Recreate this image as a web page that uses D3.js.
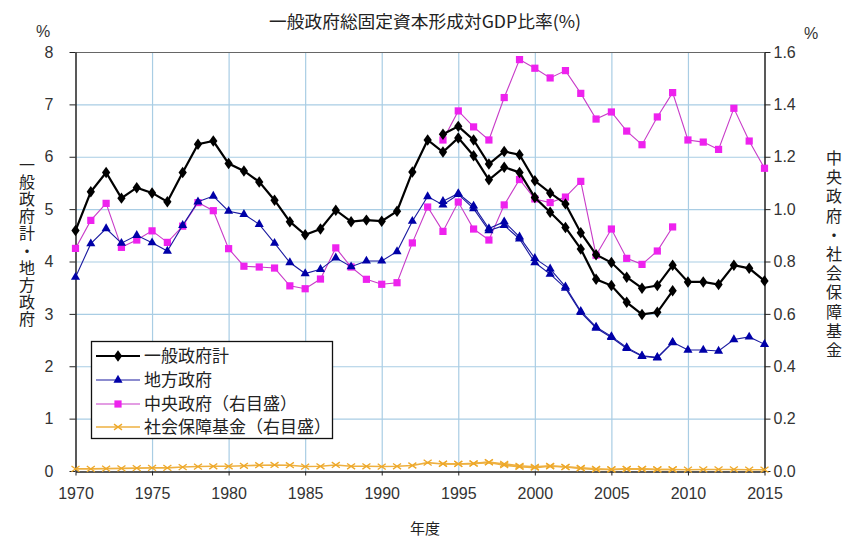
<!DOCTYPE html>
<html>
<head>
<meta charset="utf-8">
<script src="https://cdn.jsdelivr.net/npm/d3@7"></script>
<style>
  body { margin: 0; background: #fff; }
  svg { display: block; }
</style>
</head>
<body>
<div id="chart"></div>
<script>
// years covered by the two survey series
const oldYears = d3.range(1970, 2010)
const newYears = d3.range(1994, 2016)

// 一般政府計 (left axis, %)
const generalOld = [4.59, 5.33, 5.70, 5.21, 5.41, 5.31, 5.14, 5.70, 6.24, 6.30,
  5.87, 5.73, 5.52, 5.17, 4.76, 4.51, 4.62, 4.98, 4.76, 4.79,
  4.77, 4.96, 5.71, 6.32, 6.09, 6.36, 6.02, 5.56, 5.80, 5.70,
  5.22, 4.94, 4.65, 4.24, 3.66, 3.54, 3.22, 2.99, 3.03, 3.44]
const generalNew = [6.43, 6.58, 6.32, 5.86, 6.10, 6.04, 5.54, 5.31, 5.10, 4.55,
  4.13, 3.98, 3.70, 3.49, 3.54, 3.93, 3.61, 3.61, 3.56, 3.93, 3.87, 3.63]

// 地方政府 (left axis, %)
const localOld = [3.70, 4.34, 4.63, 4.35, 4.50, 4.36, 4.20, 4.69, 5.14, 5.25,
  4.96, 4.90, 4.71, 4.35, 3.98, 3.77, 3.85, 4.07, 3.90, 4.01,
  4.01, 4.19, 4.77, 5.24, 5.08, 5.28, 5.01, 4.59, 4.69, 4.43,
  3.98, 3.76, 3.49, 3.03, 2.73, 2.55, 2.34, 2.19, 2.16, 2.45]
const localNew = [5.15, 5.30, 5.06, 4.63, 4.76, 4.47, 4.06, 3.86, 3.52, 3.05,
  2.75, 2.57, 2.36, 2.20, 2.17, 2.46, 2.31, 2.31, 2.29, 2.51, 2.56, 2.42]

// 中央政府 (right axis, %)
const centralOld = [0.850, 0.957, 1.022, 0.854, 0.882, 0.917, 0.873, 0.935, 1.025, 0.994,
  0.849, 0.782, 0.779, 0.775, 0.707, 0.696, 0.733, 0.852, 0.779, 0.732,
  0.713, 0.719, 0.871, 1.008, 0.915, 1.027, 0.924, 0.882, 1.016, 1.113,
  1.039, 1.025, 1.046, 1.106, 0.824, 0.924, 0.812, 0.789, 0.840, 0.932]
const centralNew = [1.264, 1.375, 1.314, 1.264, 1.426, 1.571, 1.538, 1.501, 1.529, 1.442,
  1.344, 1.371, 1.298, 1.246, 1.352, 1.445, 1.264, 1.256, 1.228, 1.385, 1.260, 1.156]

// 社会保障基金 (right axis, %)
const socialOld = [0.008, 0.008, 0.009, 0.010, 0.011, 0.012, 0.012, 0.015, 0.017, 0.018,
  0.018, 0.020, 0.022, 0.023, 0.022, 0.017, 0.018, 0.023, 0.018, 0.018,
  0.017, 0.018, 0.021, 0.032, 0.027, 0.027, 0.028, 0.033, 0.022, 0.016,
  0.013, 0.018, 0.015, 0.010, 0.006, 0.006, 0.008, 0.007, 0.006, 0.006]
const socialNew = [0.028, 0.027, 0.029, 0.034, 0.027, 0.020, 0.016, 0.020, 0.016, 0.012,
  0.008, 0.006, 0.007, 0.008, 0.006, 0.006, 0.005, 0.006, 0.006, 0.006, 0.005, 0.005]

const xTicks = d3.range(1970, 2016, 5)
const leftTicks = d3.range(0, 9, 1)
const rightTicks = d3.range(0, 1.61, 0.2)

const legendLabels = ["一般政府計", "地方政府", "中央政府（右目盛）", "社会保障基金（右目盛）"]

const width = 848
const height = 540
const margin = { top: 52, right: 84, bottom: 69, left: 75 }
const jp = "'Noto Sans CJK JP', 'Noto Sans', sans-serif"
const num = "'Liberation Sans', Arial, sans-serif"

const svg = d3.select("#chart")
  .append("svg")
  .attr("width", width)
  .attr("height", height)

const x = d3.scaleLinear().domain([1970, 2015]).range([margin.left + 0.5, width - margin.right + 0.5])
const yL = d3.scaleLinear().domain([0, 8]).range([height - margin.bottom, margin.top])
const yR = d3.scaleLinear().domain([0, 1.6]).range([height - margin.bottom, margin.top])

const plotW = x.range()[1] - x.range()[0]
const plotH = yL.range()[0] - yL.range()[1]

// grid lines
svg.append("g")
  .attr("transform", `translate(0,${margin.top})`)
  .call(d3.axisBottom(x).tickValues(xTicks.slice(1, -1)).tickSize(plotH).tickFormat(""))
  .call(g => g.select(".domain").remove())
  .selectAll("line").attr("stroke", "#a9cde4").attr("stroke-width", 1.2)

svg.append("g")
  .attr("transform", `translate(${x.range()[0]},0)`)
  .call(d3.axisRight(yL).tickValues(leftTicks.slice(1, -1)).tickSize(plotW).tickFormat(""))
  .call(g => g.select(".domain").remove())
  .selectAll("line").attr("stroke", "#a9cde4").attr("stroke-width", 1.2)

// top frame line
svg.append("line")
  .attr("x1", x.range()[0]).attr("x2", x.range()[1])
  .attr("y1", yL(8) + 0.5).attr("y2", yL(8) + 0.5)
  .attr("stroke", "#666")

// axes
const leftAxis = svg.append("g")
  .attr("transform", `translate(${x.range()[0]},0)`)
  .call(d3.axisLeft(yL).tickValues(leftTicks).tickSize(6).tickSizeOuter(0).tickPadding(16).tickFormat(d3.format("d")))
const rightAxis = svg.append("g")
  .attr("transform", `translate(${x.range()[1]},0)`)
  .call(d3.axisRight(yR).tickValues(rightTicks).tickSize(6).tickSizeOuter(0).tickPadding(3).tickFormat(d3.format(".1f")))
const bottomAxis = svg.append("g")
  .attr("transform", `translate(0,${yL(0) + 0.5})`)
  .call(d3.axisBottom(x).tickValues(xTicks).tickSize(4).tickSizeOuter(0).tickPadding(12).tickFormat(d3.format("d")))

;[leftAxis, rightAxis, bottomAxis].forEach(g => {
  g.selectAll(".domain").attr("stroke", "#222").attr("stroke-width", 1.5)
  g.selectAll(".tick line").attr("stroke", "#222")
  g.selectAll("text").attr("font-family", num).attr("font-size", 16).attr("fill", "#333")
})

// series drawing
function drawSeries(years, values, y, opt) {
  const pts = years.map((yr, i) => [x(yr), y(values[i])])
  svg.append("path")
    .datum(pts)
    .attr("fill", "none")
    .attr("stroke", opt.color)
    .attr("stroke-width", opt.lineWidth)
    .attr("d", d3.line())
  drawMarkers(svg, pts, opt)
}

function drawMarkers(parent, pts, opt) {
  if (opt.marker === "cross") {
    const s = 4
    parent.append("g").selectAll("path")
      .data(pts)
      .join("path")
      .attr("d", d => `M${d[0] - s},${d[1] - s / 1.4}L${d[0] + s},${d[1] + s / 1.4}M${d[0] - s},${d[1] + s / 1.4}L${d[0] + s},${d[1] - s / 1.4}`)
      .attr("stroke", opt.markerColor)
      .attr("stroke-width", 1.3)
    return
  }
  const sym = d3.symbol().type(opt.marker).size(opt.size)
  parent.append("g").selectAll("path")
    .data(pts)
    .join("path")
    .attr("transform", d => `translate(${d[0]},${d[1]})${opt.marker === d3.symbolDiamond ? " scale(1.25,1)" : ""}`)
    .attr("d", sym)
    .attr("fill", opt.markerColor)
}

const styles = [
  { color: "#000000", markerColor: "#000000", lineWidth: 2.2, marker: d3.symbolDiamond, size: 38 },
  { color: "#1a1aa0", markerColor: "#0000a8", lineWidth: 1.1, marker: d3.symbolTriangle, size: 36 },
  { color: "#c83cc8", markerColor: "#ee22ee", lineWidth: 1.1, marker: d3.symbolSquare, size: 52 },
  { color: "#eeb040", markerColor: "#eea828", lineWidth: 1.6, marker: "cross", size: 0 }
]

drawSeries(oldYears, socialOld, yR, styles[3])
drawSeries(newYears, socialNew, yR, styles[3])
drawSeries(oldYears, centralOld, yR, styles[2])
drawSeries(newYears, centralNew, yR, styles[2])
drawSeries(oldYears, localOld, yL, styles[1])
drawSeries(newYears, localNew, yL, styles[1])
drawSeries(oldYears, generalOld, yL, styles[0])
drawSeries(newYears, generalNew, yL, styles[0])

// title and axis labels
svg.append("text")
  .attr("x", 425).attr("y", 28)
  .attr("text-anchor", "middle")
  .attr("font-family", jp).attr("font-size", 17).attr("fill", "#222")
  .attr("textLength", 312).attr("lengthAdjust", "spacingAndGlyphs")
  .text("一般政府総固定資本形成対GDP比率(%)")

svg.append("text").attr("x", 43).attr("y", 37).attr("text-anchor", "middle")
  .attr("font-family", num).attr("font-size", 16).attr("fill", "#333").text("%")
svg.append("text").attr("x", 811).attr("y", 39).attr("text-anchor", "middle")
  .attr("font-family", num).attr("font-size", 16).attr("fill", "#333").text("%")

svg.append("text").attr("x", 425).attr("y", 534).attr("text-anchor", "middle")
  .attr("font-family", jp).attr("font-size", 15).attr("fill", "#222").text("年度")

// vertical axis titles, one text element each
function verticalText(str, cx, top, step) {
  const fs = 16
  svg.append("text")
    .attr("x", cx).attr("y", top)
    .attr("font-family", jp).attr("font-size", fs).attr("fill", "#222")
    .style("writing-mode", "vertical-rl")
    .style("text-orientation", "upright")
    .attr("letter-spacing", step - fs)
    .text(str)
}
verticalText("一般政府計・地方政府", 27, 157, 17.1)
verticalText("中央政府・社会保障基金", 834, 150, 19.2)

// legend
const legend = svg.append("g")
legend.append("rect")
  .attr("x", 91.5).attr("y", 341.5).attr("width", 241).attr("height", 97)
  .attr("fill", "#fff").attr("stroke", "#111").attr("stroke-width", 1.3)

const rowY = [356, 380, 404, 427]
legendLabels.forEach((label, i) => {
  const st = styles[i]
  const cy = rowY[i]
  legend.append("line")
    .attr("x1", 96).attr("x2", 140).attr("y1", cy).attr("y2", cy)
    .attr("stroke", st.color).attr("stroke-width", st.lineWidth)
  drawMarkers(legend, [[118, cy]], st)
  legend.append("text")
    .attr("x", 144).attr("y", cy + 6)
    .attr("font-family", jp).attr("font-size", 17).attr("fill", "#222")
    .text(label)
})
</script>
</body>
</html>
